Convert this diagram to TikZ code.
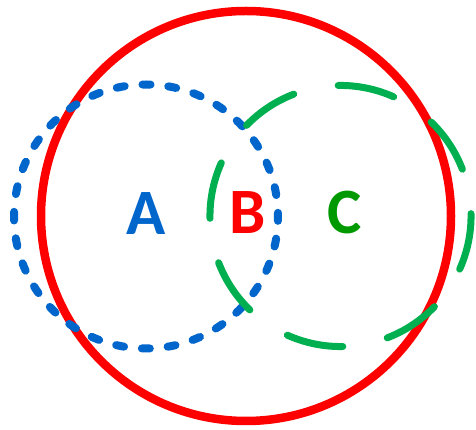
\documentclass[tikz,border=0pt]{standalone}
\usepackage{fontspec}
\newfontfamily\lblfont{Carlito}
\definecolor{setred}{HTML}{FF0000}
\definecolor{setblue}{HTML}{0066CC}
\definecolor{setgreen}{HTML}{00B050}
\definecolor{dkgreen}{HTML}{009900}

\begin{document}
\begin{tikzpicture}[
  x=1pt, y=1pt,
  ring/.style={draw=#1, line width=8.5pt},
  dotring/.style={draw=#1, line width=8pt, line cap=round,
    dash pattern=on 8pt off 17.9pt},
  dashring/.style={draw=#1, line width=7pt, line cap=round,
    dash pattern=on 57pt off 45.5pt},
  lbl/.style={text=#1, font=\lblfont\bfseries\fontsize{64.7}{64.7}\selectfont,
    inner sep=0pt},
]

% Frame
\useasboundingbox (0,0) rectangle (476,430);

% ===== Centres =====
\coordinate (cR) at (246,214);
\coordinate (cA) at (146,213.5);
\coordinate (cC) at (340.5,214);

% ===== Sets =====
\draw[ring=setred] (cR) circle[radius=205pt];
\draw[dotring=setblue] (cA) ++(178.26:132pt)
  arc[start angle=178.26, delta angle=360, radius=132pt];
\draw[dashring=setgreen] (cC) ++(-24:130.5pt)
  arc[start angle=-24, delta angle=360, radius=130.5pt];

% ===== Labels =====
\node[lbl=setblue] (labA) at (146,216) {A};
\node[lbl=setred] (labB) at (248,217) {B};
\node[lbl=dkgreen] (labC) at (345,217) {C};

\end{tikzpicture}
\end{document}
